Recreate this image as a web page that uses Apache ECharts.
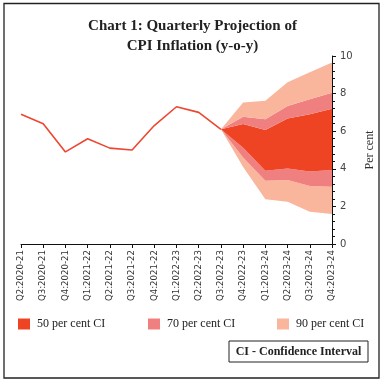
<!DOCTYPE html>
<html>
<head>
<meta charset="utf-8">
<script src="https://cdn.jsdelivr.net/npm/echarts@6/dist/echarts.min.js"></script>
<style>html,body{margin:0;padding:0;background:#fff}#c{width:385px;height:383px}</style>
</head>
<body>
<div id="c"></div>
<script>
var categories = ['Q2:2020-21','Q3:2020-21','Q4:2020-21','Q1:2021-22','Q2:2021-22','Q3:2021-22','Q4:2021-22','Q1:2022-23','Q2:2022-23','Q3:2022-23','Q4:2022-23','Q1:2023-24','Q2:2023-24','Q3:2023-24','Q4:2023-24'];
var actual = [6.9, 6.4, 4.9, 5.6, 5.1, 5.0, 6.3, 7.3, 7.0, 6.1, null, null, null, null, null];
// fan bounds from Q3:2022-23 onward
var lower90 = [6.1, 4.1, 2.38, 2.25, 1.72, 1.6];
var lower70 = [6.1, 4.6, 3.37, 3.4, 3.08, 3.05];
var lower50 = [6.1, 5.12, 3.9, 4.02, 3.86, 3.93];
var upper50 = [6.1, 6.38, 6.06, 6.68, 6.9, 7.2];
var upper70 = [6.1, 6.77, 6.63, 7.34, 7.7, 8.05];
var upper90 = [6.1, 7.52, 7.62, 8.6, 9.13, 9.65];
var yTicks = [0, 2, 4, 6, 8, 10];
var legendNames = ['50 per cent CI', '70 per cent CI', '90 per cent CI'];

var C50 = '#EF4424', C70 = '#F08080', C90 = '#F9B69D', CLINE = '#EE4630';
var start = categories.length - lower90.length;
function pad(arr) { var out = []; for (var i = 0; i < start; i++) out.push(null); return out.concat(arr); }
function diff(a, b) { return a.map(function (v, i) { return +(v - b[i]).toFixed(3); }); }

function band(name, data, color) {
  return { name: name, type: 'line', stack: 'fan', data: pad(data), symbol: 'none',
    lineStyle: { width: 0 }, itemStyle: { color: color }, areaStyle: { color: color, opacity: 1 },
    emphasis: { disabled: true }, silent: true, z: 1 };
}

var serif = 'Liberation Serif';
var sans = 'DejaVu Sans';

var option = {
  animation: false,
  title: {
    text: 'Chart 1: Quarterly Projection of\nCPI Inflation (y-o-y)',
    left: 'center', top: 11,
    textStyle: { fontFamily: serif, fontWeight: 'bold', fontSize: 15, lineHeight: 20, color: '#222' }
  },
  legend: [0, 1, 2].map(function (i) {
    return {
      data: [legendNames[i]], left: [18, 148, 277][i], top: 318, icon: 'rect', padding: 0,
      itemWidth: 12, itemHeight: 11, selectedMode: false,
      textStyle: { fontFamily: serif, fontSize: 12, color: '#222', padding: [0, 0, 0, 2] }
    };
  }),
  grid: { left: 21, right: 53, top: 56, bottom: 139, containLabel: false },
  xAxis: {
    type: 'category', data: categories, boundaryGap: false,
    axisLine: { lineStyle: { color: '#111', width: 1 } },
    axisTick: { show: true, length: 4, alignWithLabel: true, lineStyle: { color: '#111' } },
    axisLabel: { rotate: 90, fontFamily: sans, fontSize: 8.6, color: '#333', margin: 6, interval: 0 },
    splitLine: { show: false }
  },
  yAxis: {
    type: 'value', position: 'right', min: yTicks[0], max: yTicks[yTicks.length - 1], interval: 2,
    name: 'Per cent', nameLocation: 'middle', nameGap: 28, nameRotate: 90,
    nameTextStyle: { fontFamily: serif, fontSize: 12, color: '#333' },
    axisLine: { show: true, lineStyle: { color: '#111', width: 1 } },
    axisTick: { show: true, length: 4, lineStyle: { color: '#111' } },
    minorTick: { show: true, splitNumber: 5, length: 3, lineStyle: { color: '#111' } },
    axisLabel: { fontFamily: sans, fontSize: 10, color: '#444', margin: 8 },
    splitLine: { show: false }
  },
  series: [
    { name: 'base', type: 'line', stack: 'fan', data: pad(lower90), symbol: 'none',
      lineStyle: { width: 0 }, areaStyle: { opacity: 0 }, silent: true, z: 1 },
    band(legendNames[2], diff(lower70, lower90), C90),
    band(legendNames[1], diff(lower50, lower70), C70),
    band(legendNames[0], diff(upper50, lower50), C50),
    band(legendNames[1], diff(upper70, upper50), C70),
    band(legendNames[2], diff(upper90, upper70), C90),
    { name: 'CPI', type: 'line', data: actual, symbol: 'none',
      lineStyle: { color: CLINE, width: 1.6 }, itemStyle: { color: CLINE }, z: 5 }
  ],
  graphic: [
    { type: 'rect', shape: { x: 4, y: 3.5, width: 375, height: 374.5 },
      style: { fill: 'none', stroke: '#222', lineWidth: 1.3 }, silent: true },
    { type: 'rect', shape: { x: 229, y: 341, width: 139, height: 21 },
      style: { fill: '#fff', stroke: '#222', lineWidth: 1 }, silent: true },
    { type: 'text', x: 298.5, y: 352, style: { text: 'CI - Confidence Interval', fontFamily: serif,
      fontWeight: 'bold', fontSize: 12, fill: '#222', align: 'center', verticalAlign: 'middle' }, silent: true }
  ]
};
echarts.init(document.getElementById('c'), null, { renderer: 'canvas' }).setOption(option);
</script>
</body>
</html>
